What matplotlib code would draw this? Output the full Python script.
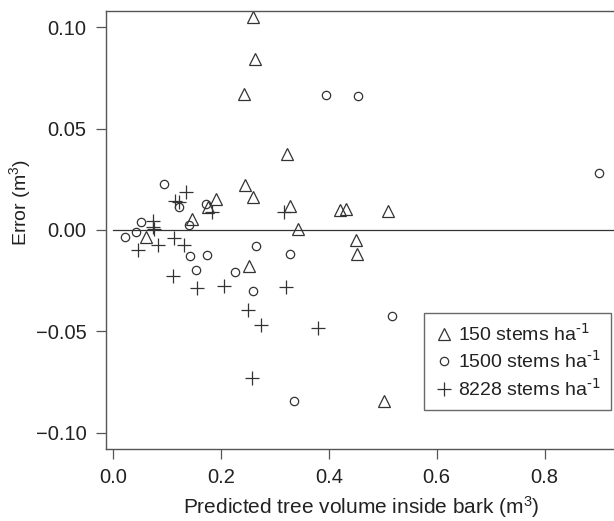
import matplotlib.pyplot as plt
import numpy as np

plt.rcParams['font.family'] = ['Liberation Sans', 'DejaVu Sans']
plt.rcParams['mathtext.default'] = 'regular'

# 150 stems/ha (triangles)
x150 = [0.259, 0.264, 0.243, 0.323, 0.244, 0.260, 0.191, 0.176, 0.328, 0.146,
        0.061, 0.343, 0.420, 0.431, 0.510, 0.450, 0.453, 0.252, 0.502]
y150 = [0.105, 0.0842, 0.0673, 0.0376, 0.0224, 0.0163, 0.0152, 0.0115, 0.0119, 0.0055,
        -0.0034, 0.0003, 0.0098, 0.0106, 0.0095, -0.0049, -0.0118, -0.0176, -0.0842]

# 1500 stems/ha (circles)
x1500 = [0.095, 0.052, 0.043, 0.022, 0.123, 0.173, 0.141, 0.143, 0.175, 0.154,
         0.226, 0.265, 0.260, 0.328, 0.394, 0.454, 0.901, 0.517, 0.336]
y1500 = [0.0229, 0.0038, -0.0010, -0.0037, 0.0111, 0.0129, 0.0023, -0.0130, -0.0123, -0.0199,
         -0.0209, -0.0078, -0.0302, -0.0118, 0.0667, 0.0662, 0.0279, -0.0425, -0.0842]

# 8228 stems/ha (plus)
x8228 = [0.047, 0.075, 0.075, 0.076, 0.083, 0.114, 0.131, 0.115, 0.122, 0.136,
         0.184, 0.317, 0.112, 0.155, 0.206, 0.320, 0.251, 0.275, 0.380, 0.258]
y8228 = [-0.0098, 0.0045, 0.0015, 0.0004, -0.0076, -0.0041, -0.0072, 0.0142, 0.0136, 0.0187,
         0.0090, 0.0087, -0.0227, -0.0285, -0.0278, -0.0281, -0.0395, -0.0468, -0.0485, -0.0732]

labels = [r'150 stems ha$^{\text{-1}}$', r'1500 stems ha$^{\text{-1}}$', r'8228 stems ha$^{\text{-1}}$']
xticks = [0.0, 0.2, 0.4, 0.6, 0.8]
yticks = [-0.10, -0.05, 0.00, 0.05, 0.10]

ink = '#333333'
txt = '#222222'

fig = plt.figure(figsize=(6.14, 5.21), dpi=100)
# right edge of the box sits just past the image edge, like the original
ax = fig.add_axes([0.1726, 0.1382, 0.8339, 0.8407])

ax.plot(x150, y150, linestyle='none', marker='^', markersize=9, markerfacecolor='none',
        markeredgecolor=ink, markeredgewidth=0.9, label=labels[0])
ax.plot(x1500, y1500, linestyle='none', marker='o', markersize=6, markerfacecolor='none',
        markeredgecolor=ink, markeredgewidth=0.9, label=labels[1])
ax.plot(x8228, y8228, linestyle='none', marker='+', markersize=10,
        markeredgecolor=ink, markeredgewidth=0.9, label=labels[2])

ax.plot([0, 1.0], [0, 0], color=ink, linewidth=0.9)

ax.set_xlim(-0.013, 0.936)
ax.set_ylim(-0.108, 0.108)
ax.set_xticks(xticks)
ax.set_xticklabels([f'{v:.1f}' for v in xticks])
ax.set_yticks(yticks)
ax.set_yticklabels([f'{v:.2f}'.replace('-', '\u2212') for v in yticks])

for s in ['left', 'bottom', 'top']:
    ax.spines[s].set_color('#555555')
    ax.spines[s].set_linewidth(1.0)
ax.spines['right'].set_visible(False)

ax.tick_params(direction='out', length=7.5, width=0.9, color='#555555',
               labelsize=14.5, labelcolor=txt, pad=6.5)

fig.text(361.5 / 614, 1 - 514 / 521, 'Predicted tree volume inside bark (m$^3$)',
         fontsize=15, color=txt, ha='center', va='baseline')
fig.text(20 / 614, 1 - 202.5 / 521, 'Error (m$^3$)', fontsize=14, color=txt,
         rotation=90, ha='center', va='center')

leg = ax.legend(loc='lower right', bbox_to_anchor=(611 / 614, 111 / 521), bbox_transform=fig.transFigure,
                fontsize=14, frameon=True, fancybox=False, handletextpad=0.2,
                handlelength=1.0, borderpad=0.55, labelspacing=0.3, borderaxespad=0)
leg.get_frame().set_edgecolor('#444444')
leg.get_frame().set_linewidth(1.0)
for t in leg.get_texts():
    t.set_color(txt)

fig.savefig('out.png', dpi=100)
